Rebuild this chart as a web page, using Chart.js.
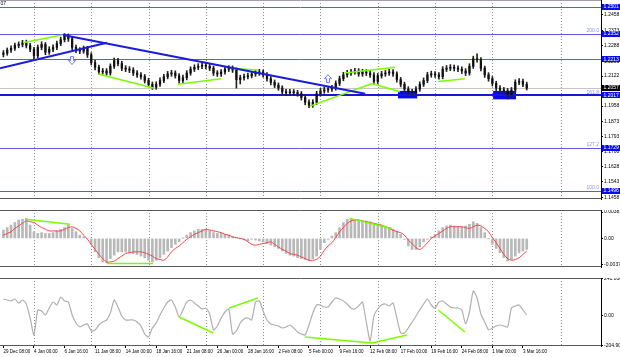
<!DOCTYPE html>
<html><head><meta charset="utf-8">
<script src="https://cdn.jsdelivr.net/npm/chart.js@4.4.1/dist/chart.umd.min.js"></script>
<style>
html,body{margin:0;padding:0;background:#fff;width:620px;height:357px;overflow:hidden;position:relative}
canvas{position:absolute;left:0;display:block}
</style></head><body>
<canvas id="cMain" width="620" height="210" style="top:0px"></canvas>
<canvas id="cMacd" width="620" height="68" style="top:210px"></canvas>
<canvas id="cCci" width="620" height="79" style="top:278px"></canvas>
<script>
// ---------- DATA ----------
const firstOpen = 1.2241;
const closes = [
1.2248,1.2264,1.2274,1.2290,1.2295,1.2305,1.2290,1.2269,1.2233,1.2279,
1.2295,1.2253,1.2269,1.2279,1.2300,1.2321,1.2341,1.2326,1.2279,1.2264,
1.2259,1.2274,1.2238,1.2196,1.2170,1.2145,1.2150,1.2139,1.2176,1.2207,
1.2191,1.2165,1.2160,1.2155,1.2139,1.2129,1.2119,1.2098,1.2077,1.2062,
1.2077,1.2098,1.2119,1.2134,1.2139,1.2124,1.2098,1.2113,1.2139,1.2160,
1.2170,1.2176,1.2181,1.2176,1.2165,1.2139,1.2134,1.2145,1.2160,1.2165,
1.2155,1.2103,1.2113,1.2119,1.2124,1.2134,1.2139,1.2145,1.2129,1.2108,
1.2088,1.2072,1.2057,1.2036,1.2031,1.2036,1.2031,1.2026,1.2005,1.1979,
1.1963,1.1979,1.2026,1.2041,1.2046,1.2051,1.2057,1.2082,1.2108,1.2129,
1.2139,1.2145,1.2150,1.2134,1.2145,1.2139,1.2129,1.2093,1.2124,1.2134,
1.2139,1.2145,1.2134,1.2103,1.2077,1.2051,1.2036,1.2031,1.2051,1.2077,
1.2098,1.2129,1.2134,1.2129,1.2119,1.2160,1.2165,1.2170,1.2165,1.2160,
1.2150,1.2139,1.2176,1.2217,1.2212,1.2165,1.2129,1.2108,1.2082,1.2057,
1.2046,1.2041,1.2020,1.2046,1.2088,1.2093,1.2077,1.2057];
const highs = [
1.2262,1.2276,1.2287,1.2303,1.2309,1.2318,1.2319,1.2302,1.2280,1.2292,
1.2310,1.2306,1.2283,1.2293,1.2314,1.2335,1.2355,1.2353,1.2338,1.2292,
1.2278,1.2287,1.2285,1.2250,1.2208,1.2182,1.2164,1.2163,1.2189,1.2221,
1.2219,1.2203,1.2179,1.2174,1.2168,1.2152,1.2142,1.2131,1.2110,1.2090,
1.2091,1.2112,1.2132,1.2148,1.2154,1.2151,1.2136,1.2127,1.2152,1.2173,
1.2184,1.2190,1.2195,1.2194,1.2188,1.2177,1.2152,1.2158,1.2174,1.2179,
1.2178,1.2167,1.2127,1.2133,1.2138,1.2148,1.2153,1.2159,1.2157,1.2141,
1.2120,1.2101,1.2085,1.2069,1.2050,1.2050,1.2049,1.2044,1.2038,1.2017,
1.1992,1.1993,1.2039,1.2055,1.2061,1.2065,1.2071,1.2096,1.2122,1.2143,
1.2154,1.2159,1.2165,1.2163,1.2159,1.2158,1.2152,1.2141,1.2137,1.2148,
1.2153,1.2159,1.2158,1.2146,1.2115,1.2089,1.2064,1.2050,1.2065,1.2091,
1.2112,1.2143,1.2149,1.2147,1.2142,1.2174,1.2180,1.2185,1.2183,1.2178,
1.2173,1.2163,1.2190,1.2231,1.2244,1.2224,1.2177,1.2141,1.2120,1.2094,
1.2070,1.2060,1.2054,1.2060,1.2102,1.2108,1.2106,1.2089];
const lows = [
1.2227,1.2236,1.2252,1.2262,1.2277,1.2282,1.2276,1.2256,1.2218,1.2222,
1.2266,1.2239,1.2241,1.2256,1.2267,1.2288,1.2309,1.2312,1.2266,1.2250,
1.2245,1.2247,1.2224,1.2183,1.2156,1.2131,1.2132,1.2126,1.2127,1.2164,
1.2178,1.2152,1.2146,1.2141,1.2125,1.2115,1.2105,1.2084,1.2063,1.2049,
1.2050,1.2065,1.2086,1.2107,1.2121,1.2111,1.2084,1.2085,1.2101,1.2127,
1.2147,1.2157,1.2163,1.2162,1.2152,1.2125,1.2120,1.2121,1.2133,1.2147,
1.2142,1.2056,1.2079,1.2100,1.2106,1.2112,1.2121,1.2126,1.2116,1.2094,
1.2074,1.2059,1.2044,1.2022,1.2017,1.2018,1.2017,1.2012,1.1991,1.1965,
1.1949,1.1951,1.1967,1.2013,1.2028,1.2033,1.2038,1.2045,1.2070,1.2096,
1.2116,1.2126,1.2132,1.2121,1.2121,1.2125,1.2115,1.2076,1.2081,1.2111,
1.2121,1.2126,1.2121,1.2089,1.2063,1.2037,1.2022,1.2017,1.2019,1.2039,
1.2065,1.2086,1.2116,1.2115,1.2105,1.2107,1.2147,1.2152,1.2151,1.2146,
1.2136,1.2125,1.2127,1.2164,1.2198,1.2151,1.2115,1.2094,1.2068,1.2043,
1.2032,1.2027,1.1997,1.2008,1.2034,1.2075,1.2064,1.2046];
const opens = [firstOpen].concat(closes.slice(0, -1));

const macdHist = [
0.00120,0.00156,0.00192,0.00229,0.00265,0.00277,0.00289,0.00192,0.00096,0.00071,
0.00083,0.00071,0.00071,0.00083,0.00108,0.00132,0.00156,0.00192,0.00144,0.00096,
0.00047,0.00023,-0.00005,-0.00086,-0.00195,-0.00280,-0.00340,-0.00352,-0.00292,-0.00243,
-0.00195,-0.00195,-0.00195,-0.00207,-0.00219,-0.00231,-0.00255,-0.00280,-0.00316,-0.00340,
-0.00316,-0.00280,-0.00231,-0.00183,-0.00134,-0.00086,-0.00050,0.00002,0.00047,0.00083,
0.00108,0.00132,0.00132,0.00132,0.00108,0.00083,0.00071,0.00071,0.00059,0.00047,
0.00023,0.00011,-0.00001,-0.00025,-0.00038,-0.00013,-0.00025,-0.00038,-0.00050,-0.00074,
-0.00098,-0.00122,-0.00146,-0.00183,-0.00219,-0.00243,-0.00255,-0.00280,-0.00292,-0.00304,
-0.00316,-0.00292,-0.00255,-0.00159,-0.00062,-0.00013,0.00035,0.00083,0.00156,0.00229,
0.00277,0.00289,0.00277,0.00265,0.00253,0.00253,0.00241,0.00217,0.00204,0.00192,
0.00180,0.00156,0.00132,0.00108,0.00059,-0.00013,-0.00110,-0.00159,-0.00159,-0.00122,
-0.00050,-0.00013,0.00023,0.00059,0.00108,0.00156,0.00180,0.00192,0.00180,0.00168,
0.00168,0.00180,0.00204,0.00241,0.00217,0.00156,0.00083,-0.00003,-0.00086,-0.00146,
-0.00207,-0.00280,-0.00328,-0.00304,-0.00255,-0.00207,-0.00183,-0.00159];
const macdSignal = [
0.00047,0.00071,0.00096,0.00144,0.00180,0.00217,0.00253,0.00241,0.00229,0.00192,
0.00156,0.00132,0.00108,0.00108,0.00108,0.00108,0.00132,0.00156,0.00168,0.00144,
0.00108,0.00047,-0.00013,-0.00086,-0.00159,-0.00231,-0.00292,-0.00340,-0.00340,-0.00328,
-0.00292,-0.00255,-0.00219,-0.00207,-0.00195,-0.00195,-0.00195,-0.00207,-0.00231,-0.00255,
-0.00292,-0.00304,-0.00316,-0.00268,-0.00195,-0.00146,-0.00110,-0.00062,-0.00013,0.00023,
0.00059,0.00083,0.00108,0.00132,0.00120,0.00108,0.00096,0.00083,0.00059,0.00047,
0.00023,0.00011,-0.00001,-0.00013,-0.00050,-0.00086,-0.00098,-0.00086,-0.00074,-0.00062,
-0.00050,-0.00086,-0.00122,-0.00159,-0.00183,-0.00219,-0.00231,-0.00243,-0.00268,-0.00292,
-0.00316,-0.00316,-0.00304,-0.00255,-0.00171,-0.00110,-0.00062,0.00011,0.00096,0.00156,
0.00217,0.00253,0.00265,0.00265,0.00253,0.00241,0.00229,0.00217,0.00204,0.00192,
0.00168,0.00144,0.00120,0.00096,0.00083,0.00047,-0.00025,-0.00074,-0.00134,-0.00159,
-0.00122,-0.00062,-0.00001,0.00035,0.00071,0.00108,0.00144,0.00168,0.00168,0.00168,
0.00168,0.00156,0.00144,0.00168,0.00192,0.00180,0.00144,0.00096,0.00011,-0.00062,
-0.00146,-0.00231,-0.00292,-0.00316,-0.00304,-0.00280,-0.00231,-0.00183];
const cci = [
107.8,101.2,94.5,107.8,81.2,101.2,74.5,-18.6,-131.8,34.6,
28.0,1.3,47.9,87.9,67.9,121.1,94.5,87.9,1.3,-51.9,
-78.5,-65.2,-58.6,-105.2,-98.5,-65.2,-45.3,-31.9,14.6,101.2,
54.6,-5.3,-31.9,-31.9,-31.9,-45.3,-71.9,-125.1,-145.1,-85.2,
-51.9,1.3,47.9,87.9,101.2,54.6,-12.0,34.6,87.9,101.2,
81.2,61.2,41.3,47.9,8.0,-98.5,-71.9,-18.6,21.3,41.3,
-125.1,-105.2,-51.9,-25.3,-18.6,-31.9,87.9,94.5,28.0,-31.9,
-58.6,-65.2,-71.9,-85.2,-78.5,-65.2,-85.2,-111.8,-125.1,-131.8,
-65.2,14.6,67.9,67.9,54.6,54.6,87.9,114.5,107.8,94.5,
74.5,47.9,41.3,61.2,87.9,-45.3,-171.7,-5.3,41.3,67.9,
74.5,61.2,81.2,-18.6,-118.5,-118.5,-85.2,-45.3,-5.3,34.6,
74.5,107.8,67.9,47.9,87.9,94.5,74.5,54.6,47.9,47.9,
34.6,-58.6,21.3,161.1,114.5,8.0,-45.3,-98.5,-85.2,-71.9,
-65.2,-71.9,-78.5,47.9,61.2,67.9,34.6,1.3];

const timeLabels = ['29 Dec 08:00','4 Jan 00:00','6 Jan 16:00','11 Jan 08:00','14 Jan 00:00','18 Jan 16:00','21 Jan 08:00','26 Jan 00:00','28 Jan 16:00','2 Feb 08:00','5 Feb 00:00','9 Feb 16:00','12 Feb 08:00','17 Feb 00:00','19 Feb 16:00','24 Feb 08:00','1 Mar 00:00','3 Mar 16:00'];
const timeLabelIdx = [0,8,16,24,32,40,48,56,64,72,80,88,96,104,112,120,128,136];
const weekGridIdx = [8,23,38,53,68,83,98,113,128,146];

const priceTicks = [1.2458,1.2373,1.2288,1.2203,1.2122,1.1958,1.1873,1.1793,1.1708,1.1628,1.1543,1.1458];
const priceTickLabels = ['1.2458','1.2373','1.2288','1.2203','1.2122','1.1958','1.1873','1.1793','1.1708','1.1628','1.1543','1.1458'];
const levelPrices = [1.2501,1.2352,1.2213,1.1729,1.1496];
const supportPrice = 1.2017;
const tagPrices = [1.2501,1.2352,1.2213,1.2017,1.1729,1.1496];
const tagTexts = ['1.2501','1.2352','1.2213','1.2017','1.1729','1.1496'];
const fibPrices = [1.2352,1.2017,1.1729,1.1496];
const fibTexts = ['200.0','161.8','127.2','100.0'];
const bidPrice = 1.2057;
const bidText = '1.2057';
const trendLines = [[15.6,1.2347,94.7,1.2026],[-0.89,1.2165,27.1,1.2305]];
const priceGreen = [[5.1,1.2305,15.3,1.2347],[24.8,1.2134,39.2,1.2057],[45.7,1.2077,57.0,1.2108],[59.3,1.2165,66.6,1.2155],[80.3,1.1958,96.5,1.2082],[89.4,1.2139,102.5,1.2170],[96.5,1.2082,103.8,1.2036],[113.8,1.2093,120.8,1.2108]];
const zoneBoxes = [[103.3,1.2041,108.3,1.2000],[128.2,1.2041,134.2,1.1995]];
const arrowsDown = [[17.96,1.2207]];
const arrowsUp = [[84.97,1.2108]];
const topText = '07';

const macdTicks = [0.00381,0,-0.00377];
const macdTickLabels = ['0.00381','0.00','-0.00377'];
const macdGreen = [[5.7,0.00277,17.4,0.00204],[27.1,-0.00364,39.2,-0.00364],[90.7,0.00289,101.7,0.00144]];

const cciTicks = [241.0302,0,-204.9];
const cciTickLabels = ['241.0302','0.00','-204.9000'];
const cciGreen = [[46.0,-12.0,54.9,-118.5],[59.1,47.9,66.6,114.5],[78.9,-145.1,96.5,-185.0],[96.5,-185.0,105.6,-131.8],[113.8,34.6,120.8,-111.8]];

// ---------- LAYOUT / STYLE ----------
const X_MIN = -0.89, X_MAX = 156.44;
const FAM = 'Liberation Sans';
const FONT = {family: FAM, size: 5, lineHeight: 1.2};
const XFONT = {family: FAM, size: 4.5, lineHeight: 1.2};
Chart.defaults.font.family = FAM;
const GREEN = 'rgb(124,252,0)';
const idx = closes.map((_, i) => i);

function segDatasets(segs, color, width) {
  return segs.map(s => ({
    type: 'line', data: [{x: s[0], y: s[1]}, {x: s[2], y: s[3]}],
    borderColor: color, borderWidth: width, pointRadius: 0, tension: 0, fill: false, order: 0
  }));
}
function xScale(show) {
  return {
    type: 'linear', min: X_MIN, max: X_MAX, offset: false, display: show,
    afterBuildTicks: s => { s.ticks = timeLabelIdx.map(v => ({value: v})); },
    ticks: {autoSkip: false, maxRotation: 0, minRotation: 0, align: 'start', padding: 1, font: XFONT, color: '#000',
      callback: (v, i) => timeLabels[i]},
    grid: {display: true, drawOnChartArea: false, drawTicks: true, tickLength: 2, color: '#000'},
    border: {display: false},
    afterFit: s => { s.height = 11; s.paddingLeft = 0; s.paddingRight = 0; }
  };
}
function yScale(min, max, ticks, labels) {
  return {
    type: 'linear', position: 'right', min, max,
    afterBuildTicks: s => { s.ticks = ticks.map(v => ({value: v})); },
    ticks: {autoSkip: false, padding: 1, font: FONT, color: '#000', callback: (v, i) => labels[i]},
    grid: {drawOnChartArea: false, tickLength: 2, color: '#000'},
    border: {display: true, color: '#000', width: 1},
    afterFit: s => { s.width = 19; s.paddingTop = 0; s.paddingBottom = 0; }
  };
}
function baseOptions(scales) {
  return {
    responsive: false, animation: false, devicePixelRatio: 1, events: [],
    layout: {padding: 0},
    plugins: {legend: {display: false}, tooltip: {enabled: false}},
    scales
  };
}
function drawWeekGrid(chart) {
  const {ctx, chartArea: a, scales: {x}} = chart;
  ctx.save();
  ctx.strokeStyle = '#8c8c8c'; ctx.lineWidth = 1; ctx.setLineDash([1, 2]);
  weekGridIdx.forEach(v => {
    const px = Math.round(x.getPixelForValue(v)) + 0.5;
    ctx.beginPath(); ctx.moveTo(px, a.top); ctx.lineTo(px, a.bottom); ctx.stroke();
  });
  ctx.restore();
}
function drawFrame(chart, topColor, bottomColor) {
  const {ctx, chartArea: a} = chart;
  ctx.save(); ctx.lineWidth = 1;
  ctx.strokeStyle = topColor;
  ctx.beginPath(); ctx.moveTo(a.left, a.top + 0.5); ctx.lineTo(a.right, a.top + 0.5); ctx.stroke();
  ctx.strokeStyle = bottomColor;
  ctx.beginPath(); ctx.moveTo(a.left, a.bottom - 0.5); ctx.lineTo(a.right, a.bottom - 0.5); ctx.stroke();
  ctx.restore();
}
function drawArrow(ctx, cx, cy, dir) {
  const pts = [[-1.5,-4],[1.5,-4],[1.5,0],[3.5,0],[0,4],[-3.5,0],[-1.5,0]];
  ctx.beginPath();
  pts.forEach((p, k) => { const X = cx + p[0], Y = cy + p[1] * dir; k ? ctx.lineTo(X, Y) : ctx.moveTo(X, Y); });
  ctx.closePath();
  ctx.fillStyle = '#fff'; ctx.fill();
  ctx.stroke();
}

// ---------- MAIN PRICE CHART ----------
const mainPlugin = {
  id: 'mainDecor',
  beforeDatasetsDraw(chart) {
    const {ctx, chartArea: a, scales: {x, y}} = chart;
    drawWeekGrid(chart);
    ctx.save();
    let py = Math.round(y.getPixelForValue(bidPrice)) + 0.5;
    ctx.strokeStyle = '#c4c4c4'; ctx.lineWidth = 1;
    ctx.beginPath(); ctx.moveTo(a.left, py); ctx.lineTo(a.right, py); ctx.stroke();
    ctx.fillStyle = '#0a0af0';
    zoneBoxes.forEach(b => {
      const x1 = x.getPixelForValue(b[0]), x2 = x.getPixelForValue(b[2]);
      const y1 = y.getPixelForValue(b[1]), y2 = y.getPixelForValue(b[3]);
      ctx.fillRect(x1, y1, x2 - x1, y2 - y1);
    });
    ctx.strokeStyle = '#5a5af2'; ctx.lineWidth = 1;
    levelPrices.forEach(p => {
      const yy = Math.round(y.getPixelForValue(p)) + 0.5;
      ctx.beginPath(); ctx.moveTo(a.left, yy); ctx.lineTo(a.right, yy); ctx.stroke();
    });
    ctx.strokeStyle = '#1818d8'; ctx.lineWidth = 2;
    py = Math.round(y.getPixelForValue(supportPrice));
    ctx.beginPath(); ctx.moveTo(a.left, py); ctx.lineTo(a.right, py); ctx.stroke();
    ctx.restore();
  },
  afterDatasetsDraw(chart) {
    const {ctx, scales: {x, y}} = chart;
    ctx.save();
    ctx.strokeStyle = '#6f7cff'; ctx.lineWidth = 1;
    arrowsDown.forEach(p => drawArrow(ctx, x.getPixelForValue(p[0]), y.getPixelForValue(p[1]), 1));
    arrowsUp.forEach(p => drawArrow(ctx, x.getPixelForValue(p[0]), y.getPixelForValue(p[1]), -1));
    ctx.restore();
  },
  afterDraw(chart) {
    const {ctx, chartArea: a, scales: {y}} = chart;
    drawFrame(chart, '#a0a0a0', '#5a5a5a');
    ctx.save();
    ctx.font = '5px "' + FAM + '"';
    ctx.fillStyle = '#8a8aff'; ctx.textAlign = 'right'; ctx.textBaseline = 'bottom';
    fibPrices.forEach((p, k) => ctx.fillText(fibTexts[k], a.right - 2, y.getPixelForValue(p) - 0.5));
    ctx.textAlign = 'left'; ctx.textBaseline = 'middle';
    const tx = a.right + 1;
    tagPrices.forEach((p, k) => {
      const py = y.getPixelForValue(p);
      ctx.fillStyle = '#0a0af0'; ctx.fillRect(tx, Math.round(py) - 3, 19, 6);
      ctx.fillStyle = '#fff'; ctx.fillText(tagTexts[k], tx + 1.5, py);
    });
    const by = y.getPixelForValue(bidPrice);
    ctx.fillStyle = '#000'; ctx.fillRect(tx, Math.round(by) - 3, 19, 6);
    ctx.fillStyle = '#fff'; ctx.fillText(bidText, tx + 1.5, by);
    ctx.fillStyle = '#000'; ctx.textBaseline = 'top';
    ctx.fillText(topText, 0.5, 1);
    ctx.restore();
  }
};
new Chart(document.getElementById('cMain'), {
  type: 'bar',
  data: {datasets: [
    ...segDatasets(trendLines, '#1c1cdc', 2),
    ...segDatasets(priceGreen, GREEN, 1.5),
    {type: 'bar', data: idx.map(i => ({x: i, y: [opens[i], closes[i]]})), backgroundColor: '#111',
      barThickness: 1.6, minBarLength: 1, grouped: false, order: 2},
    {type: 'bar', data: idx.map(i => ({x: i, y: [lows[i], highs[i]]})), backgroundColor: '#222',
      barThickness: 1, grouped: false, order: 3}
  ]},
  options: baseOptions({x: xScale(false), y: yScale(1.14497, 1.25384, priceTicks, priceTickLabels)}),
  plugins: [mainPlugin]
});

// ---------- MACD ----------
new Chart(document.getElementById('cMacd'), {
  type: 'bar',
  data: {datasets: [
    ...segDatasets(macdGreen, GREEN, 1.5),
    {type: 'line', data: idx.map(i => ({x: i, y: macdSignal[i]})), borderColor: 'rgb(238,70,70)', borderWidth: 1,
      pointRadius: 0, tension: 0.3, fill: false, order: 1},
    {type: 'bar', data: idx.map(i => ({x: i, y: macdHist[i]})), backgroundColor: '#b8b8b8',
      barThickness: 2, grouped: false, order: 3}
  ]},
  options: baseOptions({x: xScale(false), y: yScale(-0.00413, 0.00410, macdTicks, macdTickLabels)}),
  plugins: [{id: 'macdDecor',
    beforeDatasetsDraw: c => drawWeekGrid(c),
    afterDraw: c => drawFrame(c, '#5a5a5a', '#5a5a5a')}]
});

// ---------- CCI ----------
new Chart(document.getElementById('cCci'), {
  type: 'line',
  data: {datasets: [
    ...segDatasets(cciGreen, GREEN, 1.5),
    {type: 'line', data: idx.map(i => ({x: i, y: cci[i]})), borderColor: '#b0b0b0', borderWidth: 1.2,
      pointRadius: 0, tension: 0.2, fill: false, order: 1}
  ]},
  options: baseOptions({x: xScale(true), y: yScale(-205.0, 247.6, cciTicks, cciTickLabels)}),
  plugins: [{id: 'cciDecor',
    beforeDatasetsDraw: c => drawWeekGrid(c),
    afterDraw: c => drawFrame(c, '#5a5a5a', '#5a5a5a')}]
});
</script></body></html>
